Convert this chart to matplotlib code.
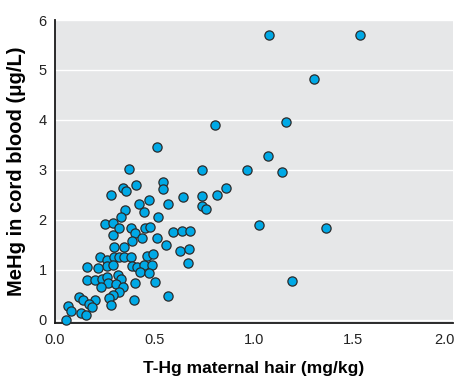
import matplotlib
matplotlib.use("Agg")
import matplotlib.pyplot as plt
from matplotlib.transforms import ScaledTranslation

# T-Hg in maternal hair (mg/kg) vs MeHg in cord blood (ug/L)
hair = [0.370, 0.740, 0.963, 0.541, 0.541, 0.405, 0.340, 0.355, 0.283, 0.859,
        0.812, 0.739, 0.641, 0.474, 0.420, 0.566, 0.739, 0.757, 0.352, 0.447,
        0.333, 0.518, 0.253, 0.290, 0.290, 0.320, 0.380, 0.404, 0.451, 0.477,
        0.437, 0.389, 0.513, 0.556, 0.595, 0.637, 0.677, 0.628, 0.675, 0.670,
        0.298, 0.347, 0.226, 0.261, 0.295, 0.323, 0.347, 0.383, 0.461, 0.491,
        0.261, 0.293, 0.159, 0.218, 0.389, 0.414, 0.449, 0.489, 0.426, 0.472,
        0.317, 0.162, 0.203, 0.235, 0.260, 0.330, 0.268, 0.305, 0.233, 0.342,
        0.400, 0.504, 0.322, 0.289, 0.271, 0.280, 0.398, 0.569, 0.122, 0.139,
        0.199, 0.172, 0.184, 0.067, 0.079, 0.132, 0.156, 0.057,
        1.077, 1.533, 1.302, 0.804, 1.161, 1.070, 1.141, 1.027, 1.363, 1.189,
        0.511]
cord = [3.02, 2.99, 2.99, 2.76, 2.61, 2.69, 2.64, 2.57, 2.49, 2.64,
        2.49, 2.48, 2.45, 2.40, 2.32, 2.32, 2.28, 2.22, 2.19, 2.15,
        2.06, 2.06, 1.91, 1.94, 1.69, 1.83, 1.83, 1.73, 1.83, 1.86,
        1.63, 1.57, 1.63, 1.50, 1.76, 1.77, 1.77, 1.38, 1.42, 1.14,
        1.45, 1.45, 1.26, 1.20, 1.26, 1.26, 1.26, 1.26, 1.28, 1.32,
        1.08, 1.09, 1.06, 1.03, 1.08, 1.05, 1.10, 1.10, 0.96, 0.94,
        0.90, 0.80, 0.79, 0.81, 0.86, 0.81, 0.73, 0.71, 0.65, 0.65,
        0.74, 0.75, 0.56, 0.49, 0.43, 0.29, 0.39, 0.47, 0.45, 0.39,
        0.40, 0.31, 0.26, 0.27, 0.18, 0.14, 0.10, 0.00,
        5.69, 5.70, 4.81, 3.89, 3.95, 3.28, 2.95, 1.90, 1.84, 0.77,
        3.45]

x_ticks = [0.0, 0.5, 1.0, 1.5, 2.0]
x_tick_labels = ["0.0", "0.5", "1.0", "1.5", "2.0"]
y_ticks = [0, 1, 2, 3, 4, 5, 6]

plt.rcParams['font.family'] = ['Liberation Sans', 'DejaVu Sans']

fig = plt.figure(figsize=(4.56, 3.81), dpi=100)
ax = fig.add_axes([0.1206, 0.1522, 0.8728, 0.7953])
ax.set_facecolor('#e6e7e8')
ax.set_axisbelow(True)
ax.yaxis.grid(True, color='white', linewidth=1.0)

ax.scatter(hair, cord, s=44, color='#00a9e6', edgecolors='#2b2b2b',
           linewidths=0.9, zorder=3, clip_on=False)

ax.set_xlim(0, 2.0)
ax.set_ylim(-0.07, 5.94)
ax.set_xticks(x_ticks)
ax.set_xticklabels(x_tick_labels)
ax.set_yticks(y_ticks)
ax.tick_params(length=0, labelsize=10.5, colors='#222222', pad=6)
ax.tick_params(axis='x', pad=7)

# keep the last x label inside the figure
last = ax.get_xticklabels()[-1]
last.set_ha('right')
last.set_transform(last.get_transform() +
                   ScaledTranslation(1.5 / 72, 0, fig.dpi_scale_trans))

for side in ['top', 'right']:
    ax.spines[side].set_visible(False)
for side in ['left', 'bottom']:
    ax.spines[side].set_color('#1a1a1a')
    ax.spines[side].set_linewidth(1.3)

ax.set_xlabel("T-Hg maternal hair (mg/kg)", fontsize=12.5, fontweight='bold',
              labelpad=10)
ax.set_ylabel("MeHg in cord blood (\u03bcg/L)", fontsize=14.5, fontweight='bold',
              labelpad=9)

fig.savefig("out.png", dpi=100)
